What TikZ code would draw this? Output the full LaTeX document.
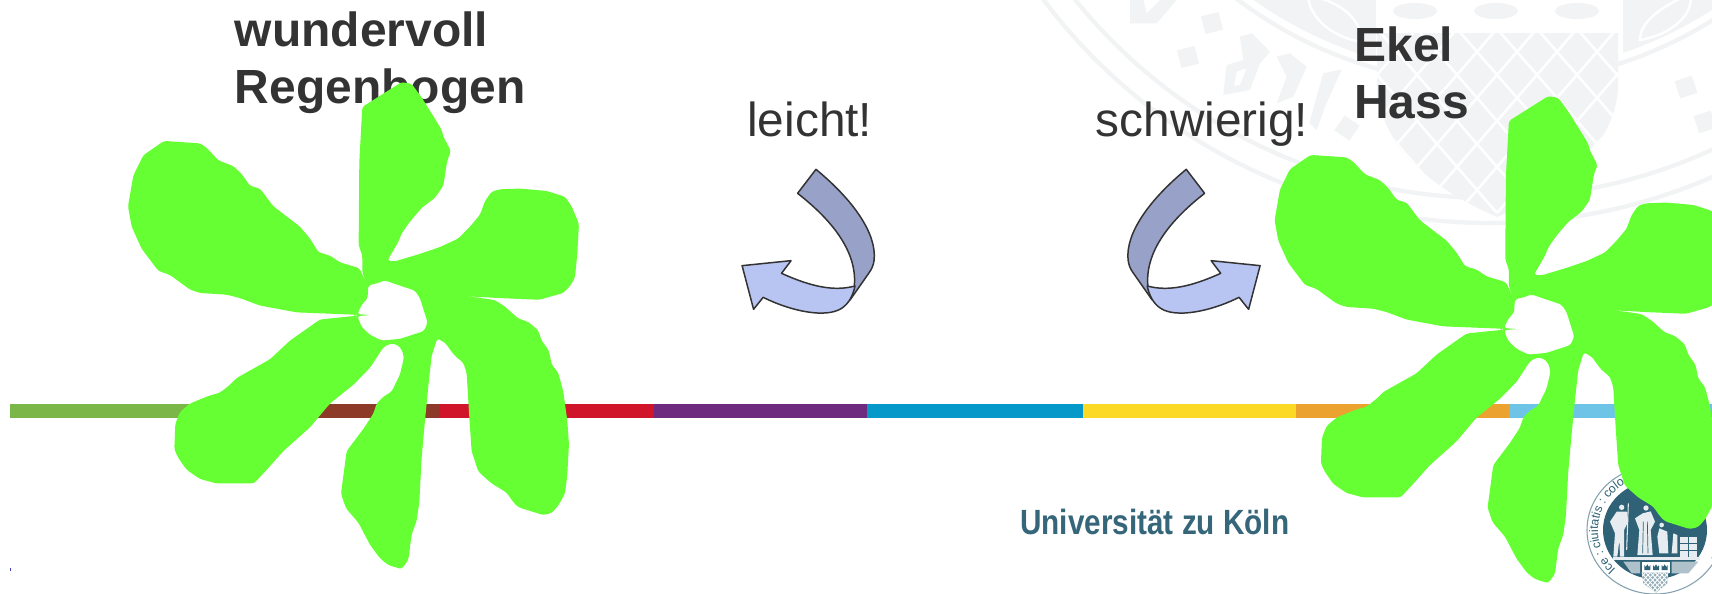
\documentclass[tikz,border=0pt]{standalone}
\usepackage{fontspec}
\setmainfont{Liberation Sans}
\usetikzlibrary{decorations.text}
\definecolor{leaf}{HTML}{66FF33}
\definecolor{ink}{HTML}{333333}
\definecolor{ribbondark}{HTML}{98A2C8}
\definecolor{ribbonlight}{HTML}{B8C4F2}
\definecolor{wm}{HTML}{F1F3F4}
\definecolor{sealblue}{HTML}{2F6177}
\definecolor{seallight}{HTML}{E6ECEF}
\definecolor{unitext}{HTML}{36667A}
\newcommand\flowerpath{
 (787,138) -- (905,65) -- (935,70) -- (965,110) -- (1000,165) -- (1025,205) -- (1030,225) -- (1053,268) -- (1042,295) -- (1030,370) -- (1005,405) -- (965,435) -- (930,475) -- (905,510) -- (895,535) -- (862,590) -- (885,592) -- (960,570) -- (1020,550) -- (1075,525) -- (1110,490) -- (1140,455) -- (1155,415) -- (1175,387) -- (1200,380) -- (1260,378) -- (1340,385) -- (1395,402) -- (1415,430) -- (1437,482) -- (1432,570) -- (1425,640) -- (1410,665) -- (1390,685) -- (1318,705) -- (1200,700) -- (1085,694) -- (1130,698) -- (1185,706) -- (1215,725) -- (1255,760) -- (1285,770) -- (1315,795) -- (1325,825) -- (1347,855) -- (1355,895) -- (1375,920) -- (1390,975) -- (1402,1060) -- (1407,1130) -- (1402,1220) -- (1395,1275) -- (1375,1310) -- (1355,1332) -- (1330,1338) -- (1255,1315) -- (1240,1300) -- (1220,1272) -- (1175,1245) -- (1135,1210) -- (1115,1150) -- (1108,1050) -- (1100,920) -- (1090,890) -- (1065,870) -- (1045,845) -- (1040,835) -- (1012,818) -- (995,870) -- (985,960) -- (975,1060) -- (965,1170) -- (958,1300) -- (950,1355) -- (935,1395) -- (925,1470) -- (905,1497) -- (865,1485) -- (840,1465) -- (810,1425) -- (775,1360) -- (738,1318) -- (723,1275) -- (740,1150) -- (790,1085) -- (820,1040) -- (830,1010) -- (850,990) -- (875,975) -- (900,925) -- (912,875) -- (905,850) -- (890,836) -- (870,834) -- (850,845) -- (810,905) -- (760,955) -- (690,1010) -- (630,1080) -- (550,1150) -- (500,1205) -- (462,1245) -- (350,1245) -- (300,1232) -- (260,1205) -- (235,1170) -- (223,1145) -- (226,1070) -- (240,1035) -- (270,1010) -- (325,988) -- (360,978) -- (390,955) -- (410,935) -- (510,880) -- (570,825) -- (660,763) -- (769,752) -- (769,749) -- (590,742) -- (480,722) -- (420,700) -- (380,690) -- (300,685) -- (270,675) -- (210,632) -- (175,620) -- (125,555) -- (95,490) -- (84,430) -- (100,340) -- (130,280) -- (192,238) -- (300,245) -- (320,258) -- (355,295) -- (400,312) -- (425,335) -- (450,370) -- (480,378) -- (520,430) -- (600,490) -- (630,525) -- (655,565) -- (690,575) -- (720,595) -- (778,612) -- (802,662) -- (787,625) -- (787,575) -- (776,545) -- (778,300) -- cycle
 (806,662) -- (830,657) -- (855,648) -- (890,660) -- (945,678) -- (960,700) -- (983,772) -- (972,797) -- (900,820) -- (845,825) -- (810,808) -- (785,785) -- (772,753) -- (812,750) -- (772,747) -- (785,720) -- (803,700) -- (804,672) -- cycle
}
\newcommand\arrowdark{
 (303,238) .. controls (400,330) and (462,430) .. (455,510) .. controls (453,525) and (450,535) .. (442,548) -- (392,630) -- (403,590) .. controls (412,490) and (350,395) .. (255,310) -- cycle
}
\newcommand\arrowlight{
 (110,527) -- (238,512) -- (213,550) .. controls (290,590) and (350,605) .. (405,588) .. controls (400,615) and (390,640) .. (370,655) .. controls (330,685) and (240,665) .. (165,622) -- (140,658) -- cycle
}
\tikzset{
 labeltext/.style={inner sep=0pt,anchor=base west,text=ink,font=\fontsize{27.2pt}{32pt}\selectfont},
 boldtext/.style={labeltext,font=\fontsize{27.3pt}{32pt}\selectfont\bfseries},
 ribbon/.style={draw=ink,line width=0.85pt,line join=round},
 wmband/.style={draw=wm,line width=2.4pt},
 wmpatch/.style={fill=wm},
 sealpart/.style={fill=seallight},
 leafshape/.style={fill=leaf,even odd rule,rounded corners=1.6pt},
}
\begin{document}
\begin{tikzpicture}[x=0.02cm,y=-0.02cm]
\useasboundingbox (0,0) rectangle (1712,593);
\clip (0,0) rectangle (1712,593);
\fill[white] (0,0) rectangle (1712,593);
% watermark seal
\draw[wmband] (1490,-335) circle[radius=558];
\draw[wmband] (1490,-335) circle[radius=533];
\draw[wmband] (1490,-335) circle[radius=419];
\begin{scope}
 \clip (1490,-335) circle[radius=410];
 \fill[wm] (1230,0) rectangle (1376,200);
 \fill[wm] (1623,0) rectangle (1712,200);
 \draw[white,line width=1.4pt] (1640,40) .. controls (1640,20) and (1665,5) .. (1690,-6) .. controls (1695,15) and (1670,35) .. cycle;
 \draw[white,line width=1.4pt] (1308,-4) .. controls (1310,20) and (1335,38) .. (1362,42) .. controls (1362,20) and (1340,0) .. cycle;
\end{scope}
\foreach \ex in {1415,1496,1577} \fill[wm] (\ex,11) ellipse[x radius=22,y radius=8];
\begin{scope}
 \path[clip] (1377,33) -- (1618,33) -- (1618,90) .. controls (1612,150) and (1560,190) .. (1497,217) .. controls (1435,190) and (1383,150) .. (1377,90) -- cycle;
 \fill[wm] (1370,30) rectangle (1625,220);
 \foreach \k in {-8,...,8} {
  \draw[white,line width=1.5pt] ({1497+40*\k},213) -- ++(185,-213);
  \draw[white,line width=1.5pt] ({1497+40*\k},213) -- ++(-185,-213);
 }
\end{scope}
\foreach \sx/\sy/\sr in {1212/23/14,1188/57/14,1347/128/-35,1686/87/18,1705/122/18}
 \fill[wmpatch,rotate around={\sr:(\sx,\sy)}] (\sx-9,\sy-9) rectangle (\sx+9,\sy+9);
\begin{scope}[shift={(1030,0)},x=0.00667cm,y=-0.00667cm]
 \fill[wm] (300,70) -- (380,70) -- (440,0) -- (390,0) -- (350,40) -- (340,0) -- (300,0) -- cycle;
 \fill[wm,even odd rule] (630,110) -- (665,100) -- (720,155) -- (690,190) -- (660,270) -- (580,285) -- (590,195) -- (640,180) -- cycle (620,215) -- (650,205) -- (630,255) -- (612,258) -- cycle;
 \fill[wm] (740,170) -- (780,160) -- (830,200) -- (790,290) -- (740,310) -- (770,230) -- cycle;
 \fill[wm] (880,220) -- (935,208) -- (885,320) -- (860,390) -- (838,370) -- (860,290) -- cycle;
\end{scope}
% colour bar
\foreach \xa/\xb/\barcol in {10/224.6/7AB648,224.6/439/8E3A28,439/653.6/D0152A,653.6/867/6E2A7E,867/1083/0499C9,1083/1296.4/FBD924,1296.4/1509/EBA22F,1509/1712/6EC4E6} {
 \definecolor{barfill}{HTML}{\barcol}
 \fill[barfill] (\xa,404) rectangle (\xb,417.5);
}
% speck
\fill[blue!45!gray] (9.7,567.5) rectangle (11,570.5);
% bottom seal
\begin{scope}
 \fill[white] (1655,530) ellipse[x radius=68,y radius=64];
 \draw[sealblue!60,line width=0.6pt] (1655,530) ellipse[x radius=68,y radius=64];
 \fill[sealblue] (1655,530) ellipse[x radius=52,y radius=49];
 \path[decorate,decoration={text along path,text align=center,text={|\fontsize{7pt}{7pt}\selectfont\color{sealblue}|Ice : ciuitatis : coloniensis}}]
   (1655,530) ++(110:57 and 54) arc[start angle=110,end angle=300,x radius=57,y radius=54];
 \path[decorate,decoration={text along path,text align=center,text={|\fontsize{7pt}{7pt}\selectfont\color{sealblue}|trubii :}}]
   (1655,530) ++(-45:64 and 60) arc[start angle=-45,end angle=70,x radius=64,y radius=60];
\end{scope}
\begin{scope}[shift={(1560,450)},x=0.00667cm,y=-0.00667cm]
 \fill[sealpart] (185,172) circle[radius=8];
 \fill[sealpart] (170,185) -- (200,185) -- (205,215) -- (192,240) -- (192,320) -- (180,320) -- (178,270) -- (172,320) -- (160,320) -- (165,250) -- (150,215) -- cycle;
 \draw[seallight,line width=0.6pt] (205,160) -- (200,300);
 \fill[sealpart] (258,174) circle[radius=8];
 \fill[sealpart] (248,190) -- (272,184) -- (285,215) -- (272,240) -- (278,315) -- (232,315) -- (238,240) -- (225,205) -- cycle;
 \draw[sealblue,line width=0.4pt] (250,215) -- (248,310) (262,215) -- (264,310);
 \fill[sealpart] (305,225) circle[radius=7];
 \fill[sealpart] (298,235) -- (322,245) -- (325,310) -- (298,310) -- (292,260) -- cycle;
 \fill[sealpart] (340,250) -- (352,255) -- (352,310) -- (335,310) -- cycle;
 \fill[sealpart] (360,262) -- (410,262) -- (410,320) -- (360,320) -- cycle;
 \draw[sealblue,line width=0.5pt] (360,280) -- (410,280) (360,300) -- (410,300) (385,262) -- (385,320);
 \fill[sealpart] (160,322) -- (420,322) -- (420,330) -- (160,330) -- cycle;
 \fill[seallight!70!sealblue] (190,335) -- (240,335) -- (240,370) -- (215,370) -- cycle;
 \fill[seallight!70!sealblue] (335,335) -- (415,335) -- (385,370) -- (335,370) -- cycle;
 \fill[white] (245,335) rectangle (330,368);
 \foreach \cx in {262,288,314} \fill[sealblue] (\cx-9,345) -- (\cx-5,351) -- (\cx,343) -- (\cx+5,351) -- (\cx+9,345) -- (\cx+9,360) -- (\cx-9,360) -- cycle;
 \fill[seallight!55!sealblue] (245,368) -- (325,368) -- (322,400) -- (288,428) -- (250,400) -- cycle;
 \begin{scope}
  \clip (245,368) -- (325,368) -- (322,400) -- (288,428) -- (250,400) -- cycle;
  \foreach \k in {-6,...,6} {
   \draw[white,line width=0.5pt] ({285+14*\k},428) -- ++(60,-65);
   \draw[white,line width=0.5pt] ({285+14*\k},428) -- ++(-60,-65);
  }
 \end{scope}
\end{scope}
% texts
\node[boldtext] (w1) at (234.5,46.5) {wundervoll};
\node[boldtext] (w2) at (234.5,103.5) {Regenbogen};
\node[boldtext] (e1) at (1354,61) {Ekel};
\node[boldtext] (e2) at (1354,118) {Hass};
\node[labeltext] (leicht) at (747,136.7) {leicht!};
\node[labeltext] (schwer) at (1095.5,136.7) {schwierig!};
\node[inner sep=0pt,anchor=base west,text=unitext,font=\fontsize{16.9pt}{20pt}\selectfont\bfseries,yscale=1.18,transform shape] (uni) at (1020,534.3) {Universität zu Köln};
% curved arrows
\begin{scope}[shift={(700,90)},xscale=0.3827,yscale=0.3333]
 \filldraw[ribbon,fill=ribbondark] \arrowdark;
 \filldraw[ribbon,fill=ribbonlight] \arrowlight;
\end{scope}
\begin{scope}[shift={(1302.2,90)},xscale=-0.3827,yscale=0.3333]
 \filldraw[ribbon,fill=ribbondark] \arrowdark;
 \filldraw[ribbon,fill=ribbonlight] \arrowlight;
\end{scope}
% flowers
\begin{scope}[shift={(100,60)},xscale=0.3333,yscale=0.3401]
 \path[leafshape] \flowerpath;
\end{scope}
\begin{scope}[shift={(1246.6,74)},xscale=0.3333,yscale=0.3401]
 \path[leafshape] \flowerpath;
\end{scope}
\end{tikzpicture}
\end{document}
